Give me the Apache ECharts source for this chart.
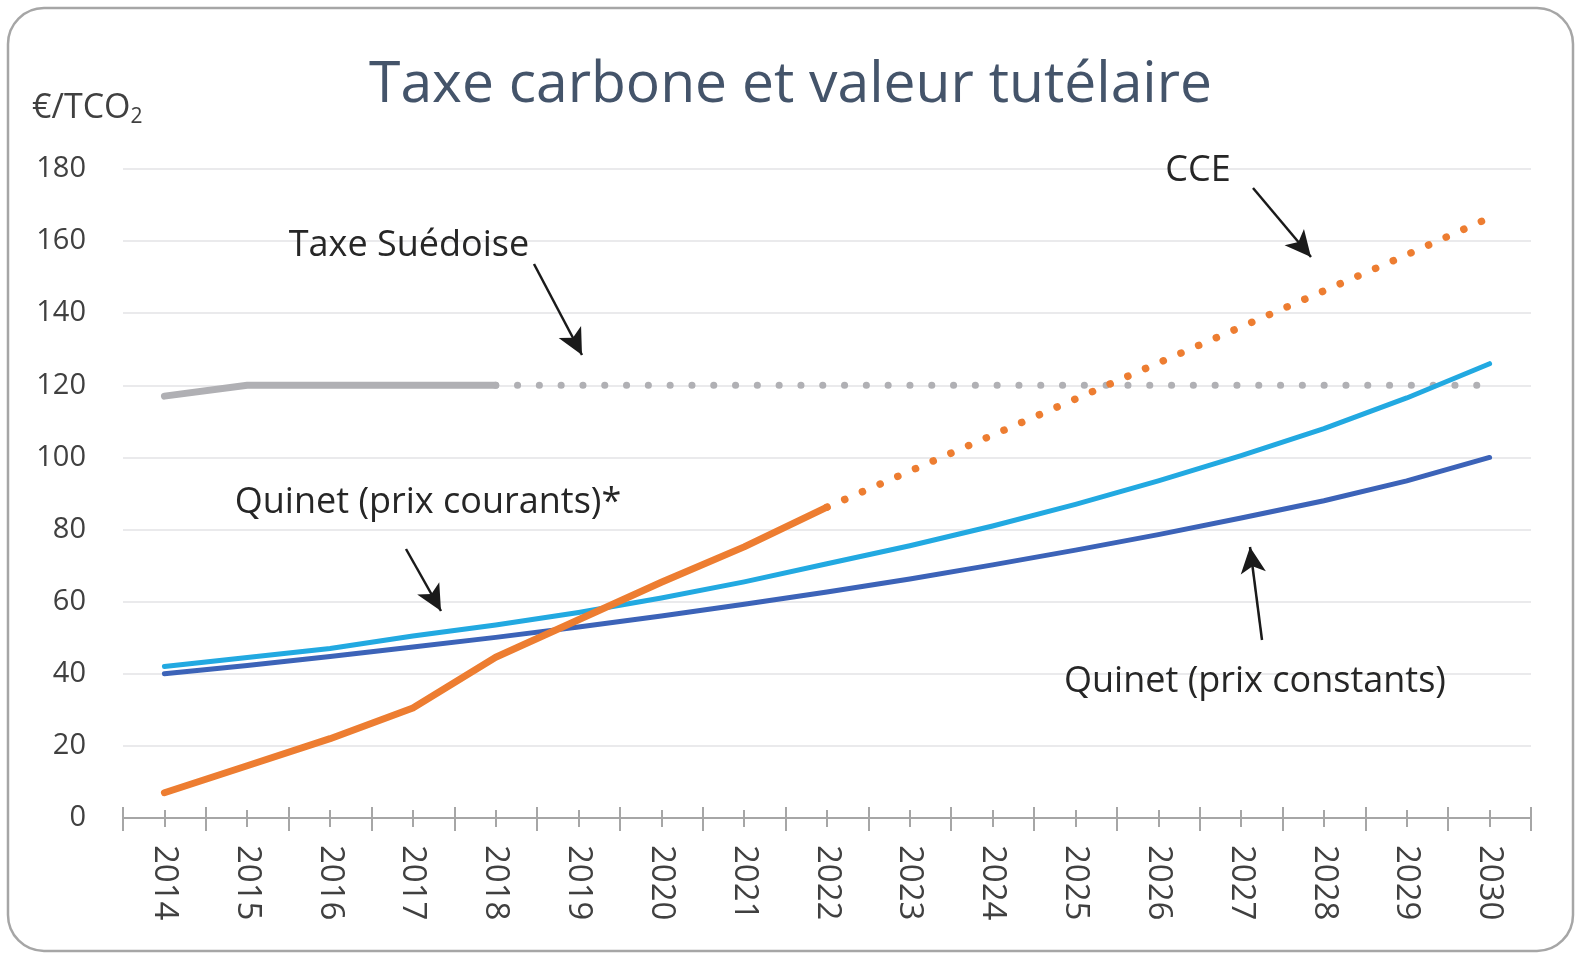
<!DOCTYPE html>
<html>
<head>
<meta charset="utf-8">
<title>Taxe carbone et valeur tutélaire</title>
<script src="https://cdn.jsdelivr.net/npm/echarts@6/dist/echarts.min.js"></script>
<style>
  html, body { margin: 0; padding: 0; background: #fff; }
  #chart { width: 1581px; height: 953px; }
</style>
</head>
<body>
<div id="chart"></div>
<script>
const years = ['2014', '2015', '2016', '2017', '2018', '2019', '2020', '2021', '2022',
  '2023', '2024', '2025', '2026', '2027', '2028', '2029', '2030'];

// Taxe suédoise : observée jusqu'en 2018, puis pointillés
const suedeSolid = [117, 120, 120, 120, 120, null, null, null, null, null, null, null, null, null, null, null, null];
const suedeDotted = [null, null, null, null, 120, 120, 120, 120, 120, 120, 120, 120, 120, 120, 120, 120, 120];

// Contribution climat énergie
const cceSolid = [7, 14.5, 22, 30.5, 44.6, 55, 65.4, 75.2, 86.2, null, null, null, null, null, null, null, null];
const cceDotted = [null, null, null, null, null, null, null, null, 86.2, 96.2, 106.2, 116.2, 126.2, 136.2, 146.2, 156.2, 166.5];

// Valeur tutélaire (rapport Quinet)
const quinetCourants = [42, 44.5, 47, 50.5, 53.5, 57, 61, 65.5, 70.5, 75.5, 81, 87, 93.5, 100.5, 108, 116.5, 126];
const quinetConstants = [40, 42.3, 44.8, 47.4, 50.1, 53, 56, 59.3, 62.7, 66.3, 70.2, 74.3, 78.6, 83.2, 88, 93.5, 100];

const FONT = '"Open Sans", "Noto Sans", sans-serif';
const TXT = '#262626';

const chart = echarts.init(document.getElementById('chart'));

const annotations = [
  { text: 'Taxe Suédoise', x: 409, y: 246 },
  { text: 'CCE', x: 1198, y: 171 },
  { text: 'Quinet (prix courants)*', x: 428, y: 503 },
  { text: 'Quinet (prix constants)', x: 1255, y: 682 }
];

const arrows = [
  [[534, 264], [582, 355]],
  [[1253, 188], [1311, 257]],
  [[406, 549], [441, 611]],
  [[1262, 640], [1250, 547]]
];

function lineSeries(name, data, color, width, dotted) {
  return {
    name: name,
    type: 'line',
    data: data,
    xAxisIndex: 0,
    showSymbol: false,
    symbol: 'none',
    silent: true,
    lineStyle: {
      color: color,
      width: width,
      cap: 'round',
      join: 'round',
      type: dotted ? [0.1, dotted] : 'solid'
    },
    z: 3
  };
}

const option = {
  animation: false,
  backgroundColor: '#fff',
  textStyle: { fontFamily: FONT },
  title: {
    text: 'Taxe carbone et valeur tutélaire',
    left: 'center',
    top: 52,
    textStyle: { fontFamily: FONT, fontSize: 57, fontWeight: 'normal', color: '#44546a' }
  },
  grid: { left: 123, right: 50, top: 169, bottom: 135, containLabel: false },
  xAxis: [
    {
      // boundary ticks crossing the axis, plus labels
      type: 'category',
      data: years,
      position: 'bottom',
      offset: -11,
      boundaryGap: true,
      axisLine: { show: false },
      axisTick: { show: true, length: 24, lineStyle: { color: '#a6a6a6', width: 2 } },
      axisLabel: {
        rotate: -90,
        margin: 38,
        fontSize: 33,
        color: '#404040',
        fontFamily: FONT,
        interval: 0
      },
      splitLine: { show: false }
    },
    {
      // axis line
      type: 'category',
      data: years,
      position: 'bottom',
      axisLine: { show: true, lineStyle: { color: '#a6a6a6', width: 2 } },
      axisTick: { show: false },
      axisLabel: { show: false }
    },
    {
      // short ticks at category centres
      type: 'category',
      data: years,
      position: 'bottom',
      offset: -8,
      axisLine: { show: false },
      axisTick: { show: true, alignWithLabel: true, interval: 0, length: 17, lineStyle: { color: '#a6a6a6', width: 2 } },
      axisLabel: { show: false }
    }
  ],
  yAxis: {
    type: 'value',
    min: 0,
    max: 180,
    interval: 20,
    axisLine: { show: false },
    axisTick: { show: false },
    axisLabel: { margin: 37, fontSize: 29, color: '#404040', fontFamily: FONT },
    splitLine: { lineStyle: { color: '#e3e3e6', width: 1.5 } }
  },
  series: [
    lineSeries('Taxe Suédoise', suedeSolid, '#b0b0b4', 7, 0),
    lineSeries('Taxe Suédoise (projection)', suedeDotted, '#b0b0b4', 7, 21.7),
    lineSeries('Quinet (prix constants)', quinetConstants, '#3c63b8', 5, 0),
    lineSeries('Quinet (prix courants)', quinetCourants, '#22a9e1', 5, 0),
    lineSeries('CCE', cceSolid, '#ed7d31', 7, 0),
    lineSeries('CCE (projection)', cceDotted, '#ed7d31', 7.5, 19.2),
    {
      type: 'line',
      data: [],
      silent: true,
      markLine: {
        silent: true,
        symbol: ['none', 'arrow'],
        symbolSize: [19, 26],
        label: { show: false },
        lineStyle: { color: '#1a1a1a', width: 2.5, type: 'solid' },
        data: arrows.map(a => [{ x: a[0][0], y: a[0][1] }, { x: a[1][0], y: a[1][1] }])
      }
    }
  ],
  graphic: [
    {
      type: 'rect',
      shape: { x: 8, y: 8, width: 1565, height: 943, r: 36 },
      style: { fill: 'none', stroke: '#a6a6a6', lineWidth: 2.5 },
      silent: true,
      z: -10
    },
    {
      type: 'text',
      left: 32,
      top: 91,
      style: {
        text: '{a|€/TCO}{b|2}',
        rich: {
          a: { fontSize: 34, fontFamily: FONT, fill: '#404040', lineHeight: 40, verticalAlign: 'bottom' },
          b: { fontSize: 21, fontFamily: FONT, fill: '#404040', lineHeight: 40, verticalAlign: 'bottom', padding: [0, 0, -3, 0] }
        }
      }
    }
  ].concat(annotations.map(a => ({
    type: 'text',
    x: a.x,
    y: a.y,
    style: {
      text: a.text,
      fontSize: 36,
      fontFamily: FONT,
      fill: TXT,
      align: 'center',
      verticalAlign: 'middle'
    },
    z: 20
  })))
};

chart.setOption(option);
</script>
</body>
</html>
